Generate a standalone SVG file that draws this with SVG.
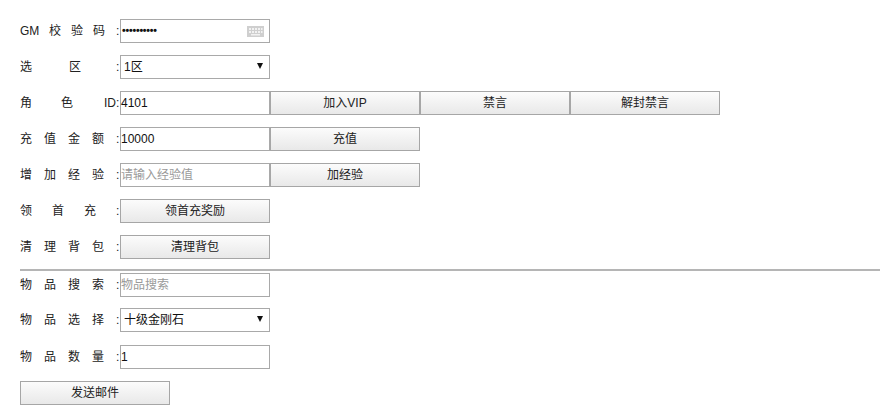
<svg xmlns="http://www.w3.org/2000/svg" width="880" height="420" viewBox="0 0 880 420">
<defs>
<linearGradient id="btnGrad" x1="0" y1="0" x2="0" y2="1">
<stop offset="0" stop-color="#fcfcfc"/>
<stop offset="1" stop-color="#e8e8e8"/>
</linearGradient>
<style>
.lbl{font-family:"Liberation Sans","Noto Sans CJK SC",sans-serif;font-size:12px;fill:#222}
.val{font-family:"Liberation Sans","Noto Sans CJK SC",sans-serif;font-size:12px;fill:#111}
.ph{font-family:"Liberation Sans","Noto Sans CJK SC",sans-serif;font-size:12px;fill:#9a9a9a}
.btxt{font-family:"Liberation Sans","Noto Sans CJK SC",sans-serif;font-size:12px;fill:#222;text-anchor:middle}
.inp{fill:#fff;stroke:#a9a9a9;stroke-width:1}
.btn{fill:url(#btnGrad);stroke:#a6a6a6;stroke-width:1}
.arr{fill:#111}
</style>
</defs>
<rect width="880" height="420" fill="#fff"/>

<g id="row-gm">
<text class="lbl" x="20" y="35">GM</text>
<text class="lbl" x="49 71 93 116" y="35">校验码:</text>
<rect class="inp" x="120.5" y="19.5" width="149" height="23"/>
<text class="val" x="122" y="34" style="font-size:10.5px;font-weight:bold;letter-spacing:-0.2px">••••••••••</text>
<g id="kbd-icon">
<rect x="247" y="26" width="17" height="11" fill="#cfcfcf"/>
<g fill="#f2f2f2">
<rect x="249" y="28" width="2" height="2"/><rect x="252" y="28" width="2" height="2"/><rect x="255" y="28" width="2" height="2"/><rect x="258" y="28" width="2" height="2"/><rect x="261" y="28" width="1.5" height="2"/>
<rect x="249" y="31" width="2" height="2"/><rect x="252" y="31" width="2" height="2"/><rect x="255" y="31" width="2" height="2"/><rect x="258" y="31" width="2" height="2"/><rect x="261" y="31" width="1.5" height="2"/>
<rect x="251" y="34" width="9" height="1.5"/>
</g>
</g>
</g>

<g id="row-zone">
<text class="lbl" x="20 69 116" y="71">选区:</text>
<rect class="inp" x="120.5" y="55.5" width="149" height="23"/>
<text class="val" x="124" y="71">1区</text>
<polygon class="arr" points="257,63 263,63 260,69"/>
</g>

<g id="row-role">
<text class="lbl" x="20 61" y="107">角色</text>
<text class="lbl" x="104" y="107">ID:</text>
<rect class="inp" x="120.5" y="91.5" width="149" height="23"/>
<text class="val" x="121" y="107">4101</text>
</g>
<g id="btn-vip">
<rect class="btn" x="270.5" y="91.5" width="149" height="23"/>
<text class="btxt" x="345" y="107">加入VIP</text>
</g>
<g id="btn-mute">
<rect class="btn" x="420.5" y="91.5" width="149" height="23"/>
<text class="btxt" x="495" y="107">禁言</text>
</g>
<g id="btn-unmute">
<rect class="btn" x="570.5" y="91.5" width="149" height="23"/>
<text class="btxt" x="645" y="107">解封禁言</text>
</g>

<g id="row-recharge">
<text class="lbl" x="20 44 68 92 116" y="143">充值金额:</text>
<rect class="inp" x="120.5" y="127.5" width="149" height="23"/>
<text class="val" x="121" y="143">10000</text>
</g>
<g id="btn-recharge">
<rect class="btn" x="270.5" y="127.5" width="149" height="23"/>
<text class="btxt" x="345" y="143">充值</text>
</g>

<g id="row-exp">
<text class="lbl" x="20 44 68 92 116" y="179">增加经验:</text>
<rect class="inp" x="120.5" y="163.5" width="149" height="23"/>
<text class="ph" x="121" y="179">请输入经验值</text>
</g>
<g id="btn-exp">
<rect class="btn" x="270.5" y="163.5" width="149" height="23"/>
<text class="btxt" x="345" y="179">加经验</text>
</g>

<g id="row-first">
<text class="lbl" x="20 52 84 116" y="215">领首充:</text>
<rect class="btn" x="120.5" y="199.5" width="149" height="23"/>
<text class="btxt" x="195" y="215">领首充奖励</text>
</g>

<g id="row-bag">
<text class="lbl" x="20 44 68 92 116" y="251">清理背包:</text>
<rect class="btn" x="120.5" y="235.5" width="149" height="23"/>
<text class="btxt" x="195" y="251">清理背包</text>
</g>

<g id="separator">
<line x1="20" y1="270" x2="880" y2="270" stroke="#9c9c9c" stroke-width="1.5"/>
</g>

<g id="row-search">
<text class="lbl" x="20 44 68 92 116" y="289">物品搜索:</text>
<rect class="inp" x="120.5" y="273.5" width="149" height="23"/>
<text class="ph" x="121" y="289">物品搜索</text>
</g>

<g id="row-item">
<text class="lbl" x="20 44 68 92 116" y="324">物品选择:</text>
<rect class="inp" x="120.5" y="308.5" width="149" height="23"/>
<text class="val" x="124" y="324">十级金刚石</text>
<polygon class="arr" points="257,316 263,316 260,322"/>
</g>

<g id="row-qty">
<text class="lbl" x="20 44 68 92 116" y="361">物品数量:</text>
<rect class="inp" x="120.5" y="345.5" width="149" height="23"/>
<text class="val" x="121" y="361">1</text>
</g>

<g id="btn-mail">
<rect class="btn" x="20.5" y="381.5" width="149" height="23"/>
<text class="btxt" x="95" y="397">发送邮件</text>
</g>

<g id="connectors"></g>
</svg>
